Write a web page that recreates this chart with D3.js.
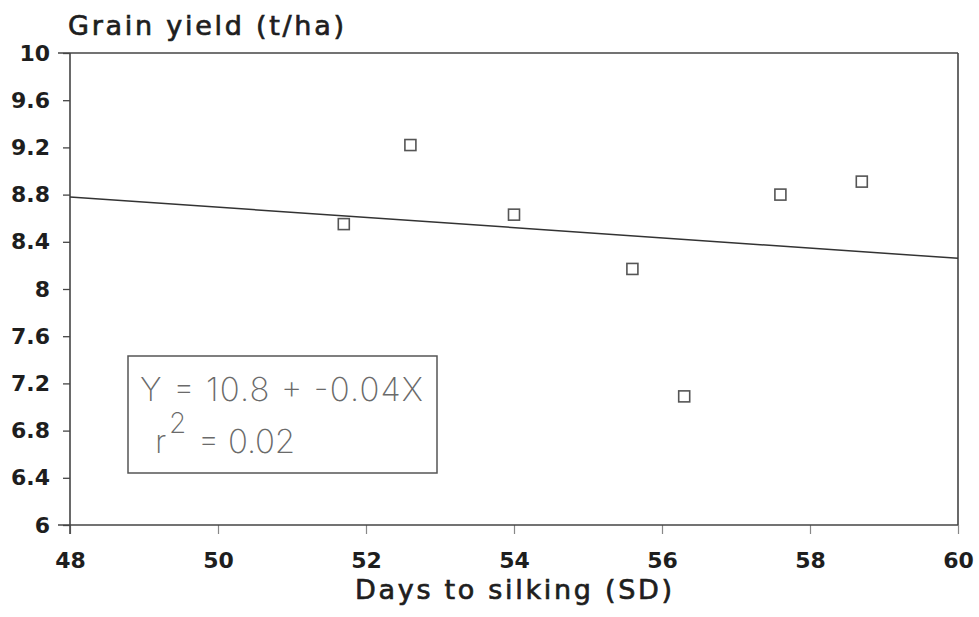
<!DOCTYPE html>
<html>
<head>
<meta charset="utf-8">
<script src="https://cdn.jsdelivr.net/npm/d3@7"></script>
<style>
  html, body { margin: 0; padding: 0; background: #fff; }
  svg { display: block; }
</style>
</head>
<body>
<svg id="chart" width="979" height="617"></svg>
<script>
// ---- data ----
const daysToSilking = [51.7, 52.6, 54.0, 55.6, 56.3, 57.6, 58.7];
const grainYield    = [8.55, 9.22, 8.63, 8.17, 7.09, 8.80, 8.91];
const fitX = [48, 60];
const fitY = [8.78, 8.26];
const xTicks = [48, 50, 52, 54, 56, 58, 60];
const yTicks = [6, 6.4, 6.8, 7.2, 7.6, 8, 8.4, 8.8, 9.2, 9.6, 10];
const yTickLabels = ["6", "6.4", "6.8", "7.2", "7.6", "8", "8.4", "8.8", "9.2", "9.6", "10"];
const xTitle = "Days to silking (SD)";
const yTitle = "Grain yield (t/ha)";
const eqLine1 = "Y = 10.8 + -0.04X";
const eqR = "r";
const eqSup = "2";
const eqLine2 = "= 0.02";

// ---- layout ----
const L = 70, R = 958, T = 53, B = 525;
const svg = d3.select("#chart");
const x = d3.scaleLinear().domain([48, 60]).range([L, R]);
const y = d3.scaleLinear().domain([6, 10]).range([B, T]);
const axisColor = "#444";
const textColor = "#1e1e1e";

// y axis
const gy = svg.append("g").attr("transform", `translate(${L},0)`)
  .call(d3.axisLeft(y).tickValues(yTicks)
    .tickFormat((d, i) => yTickLabels[i]).tickSize(7).tickPadding(13));
gy.select(".domain").remove();
gy.selectAll(".tick line").attr("stroke", axisColor).attr("stroke-width", 1.3);
gy.selectAll(".tick text")
  .attr("font-family", "'DejaVu Sans', sans-serif")
  .attr("font-weight", "bold").attr("font-size", 22).attr("fill", textColor);

// x axis
const gx = svg.append("g").attr("transform", `translate(0,${B})`)
  .call(d3.axisBottom(x).tickValues(xTicks).tickFormat(d3.format("d"))
    .tickSize(9).tickPadding(18));
gx.select(".domain").remove();
gx.selectAll(".tick line").attr("stroke", "#888").attr("stroke-width", 1.2);
gx.selectAll(".tick text")
  .attr("font-family", "'DejaVu Sans', sans-serif")
  .attr("font-weight", "bold").attr("font-size", 22).attr("fill", textColor);

// frame
const frame = svg.append("g").attr("stroke", axisColor).attr("stroke-width", 1.6).attr("fill", "none");
frame.append("line").attr("x1", L - 12).attr("x2", R).attr("y1", T).attr("y2", T);
frame.append("line").attr("x1", L - 12).attr("x2", R).attr("y1", B).attr("y2", B);
frame.append("line").attr("x1", L).attr("x2", L).attr("y1", T).attr("y2", B + 9);
frame.append("line").attr("x1", R).attr("x2", R).attr("y1", T).attr("y2", B);

// regression line
svg.append("line")
  .attr("x1", x(fitX[0])).attr("y1", y(fitY[0]))
  .attr("x2", x(fitX[1])).attr("y2", y(fitY[1]))
  .attr("stroke", "#333").attr("stroke-width", 1.5);

// points
const sz = 11;
svg.append("g").selectAll("rect").data(daysToSilking).join("rect")
  .attr("x", (d) => x(d) - sz / 2)
  .attr("y", (d, i) => y(grainYield[i]) - sz / 2)
  .attr("width", sz).attr("height", sz)
  .attr("fill", "#fff").attr("stroke", "#555").attr("stroke-width", 1.6);

// titles
svg.append("text").attr("x", 68).attr("y", 35)
  .attr("font-family", "'DejaVu Sans', sans-serif").attr("font-size", 27)
  .attr("fill", textColor).attr("stroke", textColor).attr("stroke-width", 0.7)
  .attr("textLength", 276).attr("lengthAdjust", "spacing")
  .text(yTitle);
svg.append("text").attr("x", 355).attr("y", 599)
  .attr("font-family", "'DejaVu Sans', sans-serif").attr("font-size", 27)
  .attr("fill", textColor).attr("stroke", textColor).attr("stroke-width", 0.7)
  .attr("textLength", 317).attr("lengthAdjust", "spacing")
  .text(xTitle);

// equation box
svg.append("rect").attr("x", 128).attr("y", 356).attr("width", 309).attr("height", 117)
  .attr("fill", "#fff").attr("stroke", "#555").attr("stroke-width", 1.5);
const eqFont = "Inter, Lato, 'Open Sans', sans-serif";
const eqColor = "#6a6a6a";
const eq = svg.append("text")
  .attr("font-family", eqFont).attr("font-weight", 200).attr("font-size", 33)
  .attr("fill", eqColor);
eq.append("tspan").attr("x", 140).attr("y", 401)
  .attr("textLength", 283).attr("lengthAdjust", "spacing").text(eqLine1);
eq.append("tspan").attr("x", 155).attr("y", 453).text(eqR);
eq.append("tspan").attr("x", 169).attr("y", 433).attr("font-size", 28).text(eqSup);
eq.append("tspan").attr("x", 198).attr("y", 453)
  .attr("textLength", 97).attr("lengthAdjust", "spacing").text(eqLine2);
</script>
</body>
</html>
